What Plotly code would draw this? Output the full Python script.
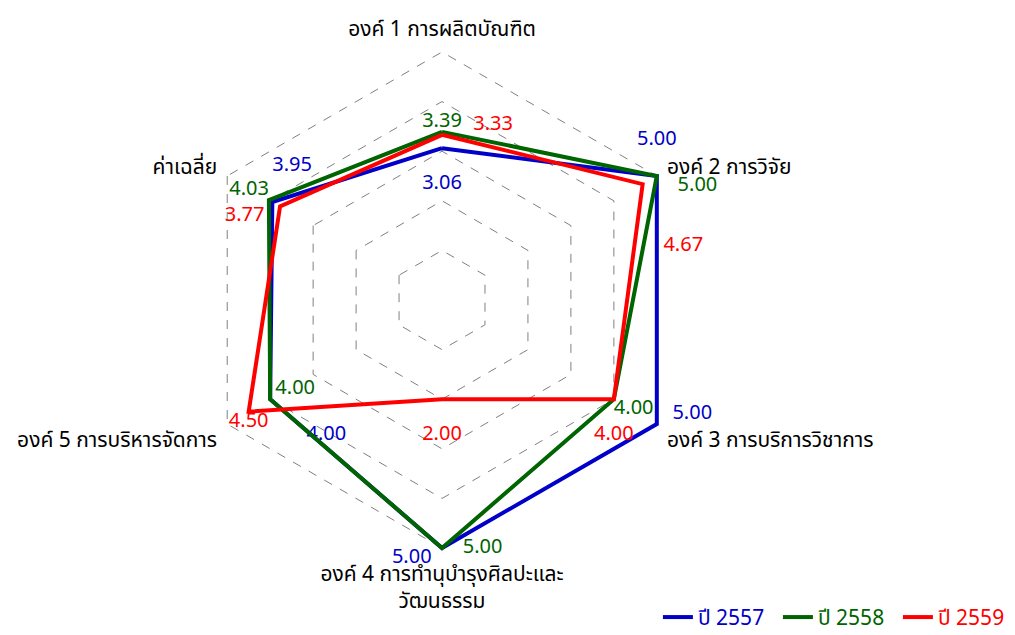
import plotly.graph_objects as go

categories = [
    "องค์ 1 การผลิตบัณฑิต",
    "องค์ 2 การวิจัย",
    "องค์ 3 การบริการวิชาการ",
    "องค์ 4 การทำนุบำรุงศิลปะและ<br>วัฒนธรรม",
    "องค์ 5 การบริหารจัดการ",
    "ค่าเฉลี่ย",
]
series_names = ["ปี 2557", "ปี 2558", "ปี 2559"]
values_2557 = [3.06, 5.00, 5.00, 5.00, 4.00, 3.95]
values_2558 = [3.39, 5.00, 4.00, 5.00, 4.00, 4.03]
values_2559 = [3.33, 4.67, 4.00, 2.00, 4.50, 3.77]

colors = ["#0000C8", "#006400", "#FF0000"]
S = "\u00a0"
BR = "<br>"
# (textposition, prefix, suffix) per point, for label placement only
label_style = [
    [("bottom center", S + BR, ""), ("top center", "", BR + S), ("top right", S * 3, ""),
     ("bottom left", "", S * 2), ("bottom right", S + BR + S * 7, ""), ("top right", "", BR + S)],
    [("top center", "", ""), ("bottom right", S * 4, ""), ("bottom right", "", ""),
     ("middle right", S * 4, ""), ("top right", S, ""), ("top left", "", "")],
    [("top right", S * 6, ""), ("bottom right", S + BR + S + BR + S * 4, ""), ("bottom center", S + BR, ""),
     ("bottom center", S + BR, ""), ("bottom center", "", ""), ("bottom left", "", S * 3)],
]

FONT = "Tahoma, 'Noto Sans Thai', 'Noto Sans', sans-serif"

fig = go.Figure()
for name, vals, col, styles in zip(series_names, [values_2557, values_2558, values_2559], colors, label_style):
    r = vals + [vals[0]]
    theta = categories + [categories[0]]
    text = [pre + f"{v:.2f}" + suf for v, (_, pre, suf) in zip(vals, styles)] + [""]
    pos = [p for p, _, _ in styles] + ["middle center"]
    fig.add_trace(go.Scatterpolar(
        r=r, theta=theta, mode="lines+text",
        text=text, textposition=pos,
        textfont=dict(size=20, color=col, family=FONT),
        line=dict(color=col, width=4),
        name=f"<span style='color:{col}'>{name}</span>",
        cliponaxis=False,
    ))

fig.update_layout(
    width=1015, height=635,
    margin=dict(l=0, r=0, t=0, b=0),
    paper_bgcolor="white",
    font=dict(family=FONT, size=21, color="black"),
    polar=dict(
        domain=dict(x=[0.1793, 0.6759], y=[0.1433, 0.9370]),
        bgcolor="white",
        gridshape="linear",
        radialaxis=dict(range=[0, 5.08], dtick=1, tick0=0, showticklabels=False, ticks="",
                        showline=False, gridcolor="#808080", griddash="dash", gridwidth=1),
        angularaxis=dict(rotation=90, direction="clockwise", showgrid=False, showline=False,
                         ticks="outside", ticklen=3, tickcolor="rgba(0,0,0,0)",
                         tickfont=dict(size=21, color="black", family=FONT)),
    ),
    legend=dict(orientation="h", x=0.995, xanchor="right", y=0.008, yanchor="bottom",
                font=dict(size=21, family=FONT), bgcolor="rgba(0,0,0,0)",
                entrywidth=75, entrywidthmode="pixels"),
    showlegend=True,
)

fig.write_html("out.html")
